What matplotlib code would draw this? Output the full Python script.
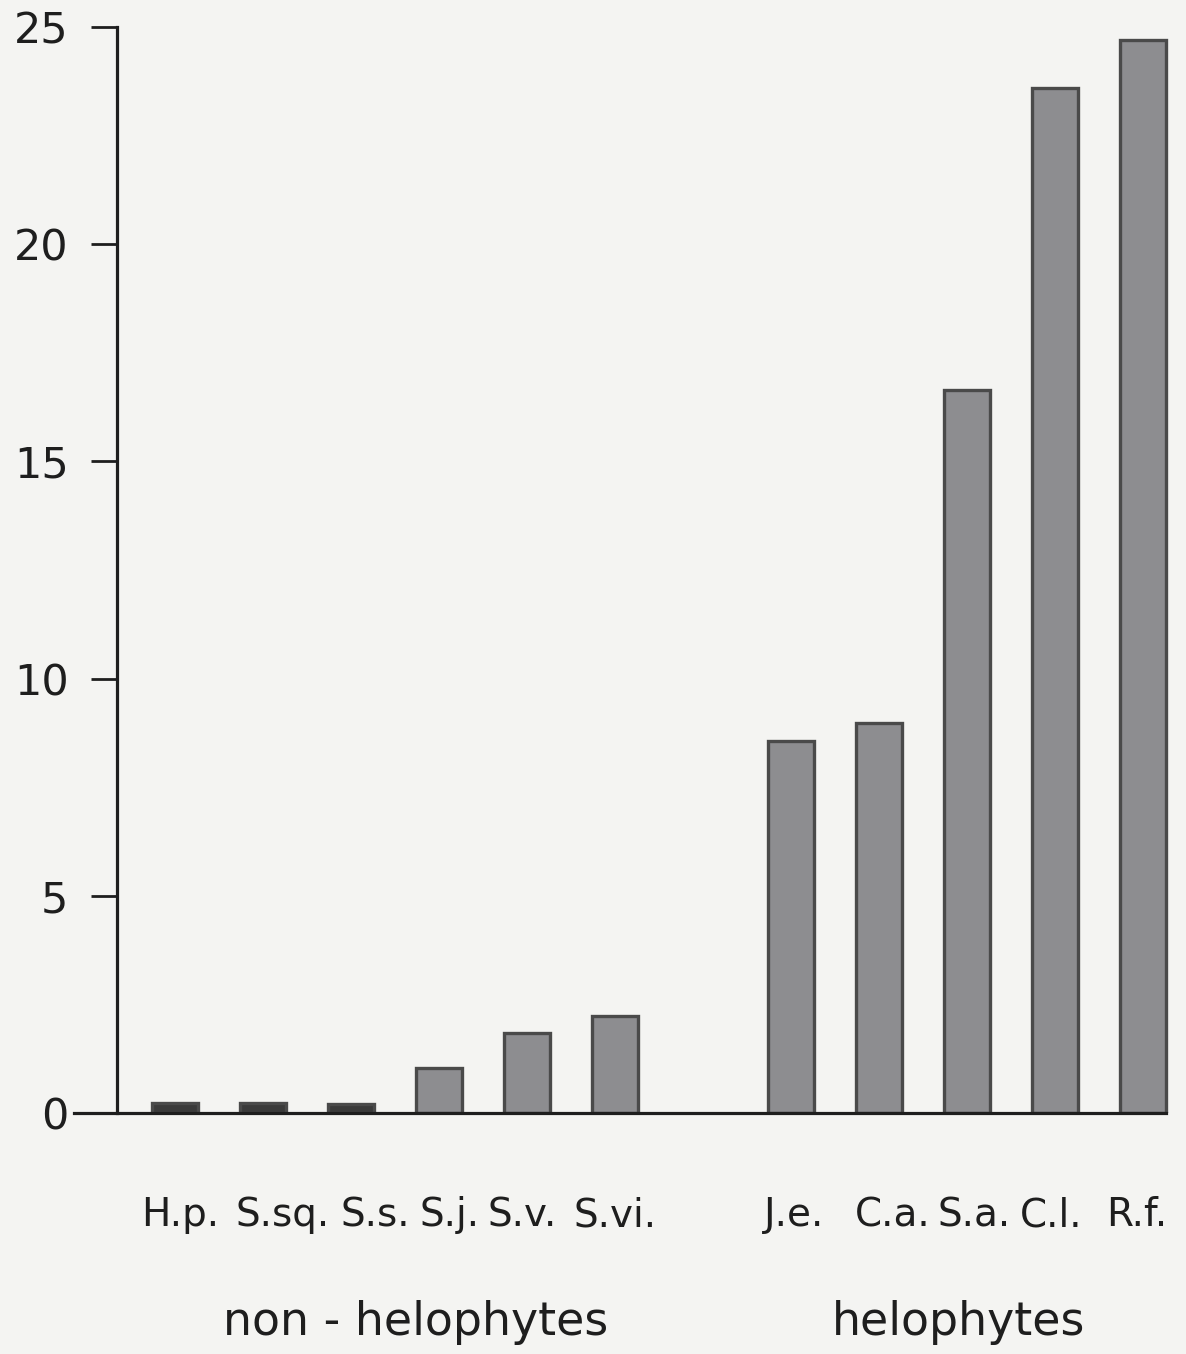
import matplotlib
matplotlib.use("Agg")
import matplotlib.pyplot as plt
import matplotlib.transforms as mtransforms

# Species abbreviations and values (bar heights)
species = ["H.p.", "S.sq.", "S.s.", "S.j.", "S.v.", "S.vi.",
           "J.e.", "C.a.", "S.a.", "C.l.", "R.f."]
values = [0.23, 0.23, 0.20, 1.03, 1.84, 2.23,
          8.56, 8.98, 16.64, 23.6, 24.7]
positions = [0, 1, 2, 3, 4, 5, 7, 8, 9, 10, 11]
groups = ["non - helophytes", "helophytes"]
group_centres = [2.73, 8.9]
y_ticks = [0, 5, 10, 15, 20, 25]

# hand-lettered labels sit a little off the bar centres (pixels)
label_nudge = [5, 19, 24, 10, -5, 0, 3, 14, 7, -4, -6]

paper = "#f4f4f2"
ink = "#1e1e1e"

plt.rcParams["font.family"] = ["DejaVu Sans"]

fig = plt.figure(figsize=(11.86, 13.54), dpi=100, facecolor=paper)
ax = fig.add_axes([0.0624, 0.178, 0.9376, 0.8117])
ax.set_facecolor(paper)

# bars: small ones appear as dark slabs, the rest a mid grey with darker rim
face = ["#3a3a3a" if v < 0.5 else "#8d8d90" for v in values]
ax.bar(positions, values, width=0.53, color=face,
       edgecolor="#4a4a4a", linewidth=2.4, zorder=2)

ax.set_xlim(-1.15, 11.49)
ax.set_ylim(0, 25.3)

for s in ("top", "right"):
    ax.spines[s].set_visible(False)
ax.spines["left"].set_position(("data", -0.66))
ax.spines["left"].set_bounds(0, 25)
ax.spines["bottom"].set_bounds(-1.15, 11.26)
for s in ("left", "bottom"):
    ax.spines[s].set_color(ink)
    ax.spines[s].set_linewidth(2.3)
ax.spines["bottom"].set_zorder(3)

ax.set_yticks(y_ticks)
ax.set_yticklabels([str(t) for t in y_ticks])
ax.tick_params(axis="y", direction="out", length=19, width=2.0,
               color=ink, pad=16, labelsize=31, labelcolor=ink)

ax.set_xticks(positions)
ax.set_xticklabels(species)
ax.tick_params(axis="x", length=0, pad=60, labelsize=28, labelcolor=ink)
for lab, dx in zip(ax.get_xticklabels(), label_nudge):
    lab.set_transform(lab.get_transform() +
                      mtransforms.ScaledTranslation(dx / 100, 0, fig.dpi_scale_trans))

# group captions below the species labels
trans = mtransforms.blended_transform_factory(ax.transData, fig.transFigure)
for name, xc in zip(groups, group_centres):
    ax.text(xc, 0.0236, name, transform=trans, ha="center", va="center",
            fontsize=33, color=ink)

fig.savefig("out.png", dpi=100, facecolor=paper)
